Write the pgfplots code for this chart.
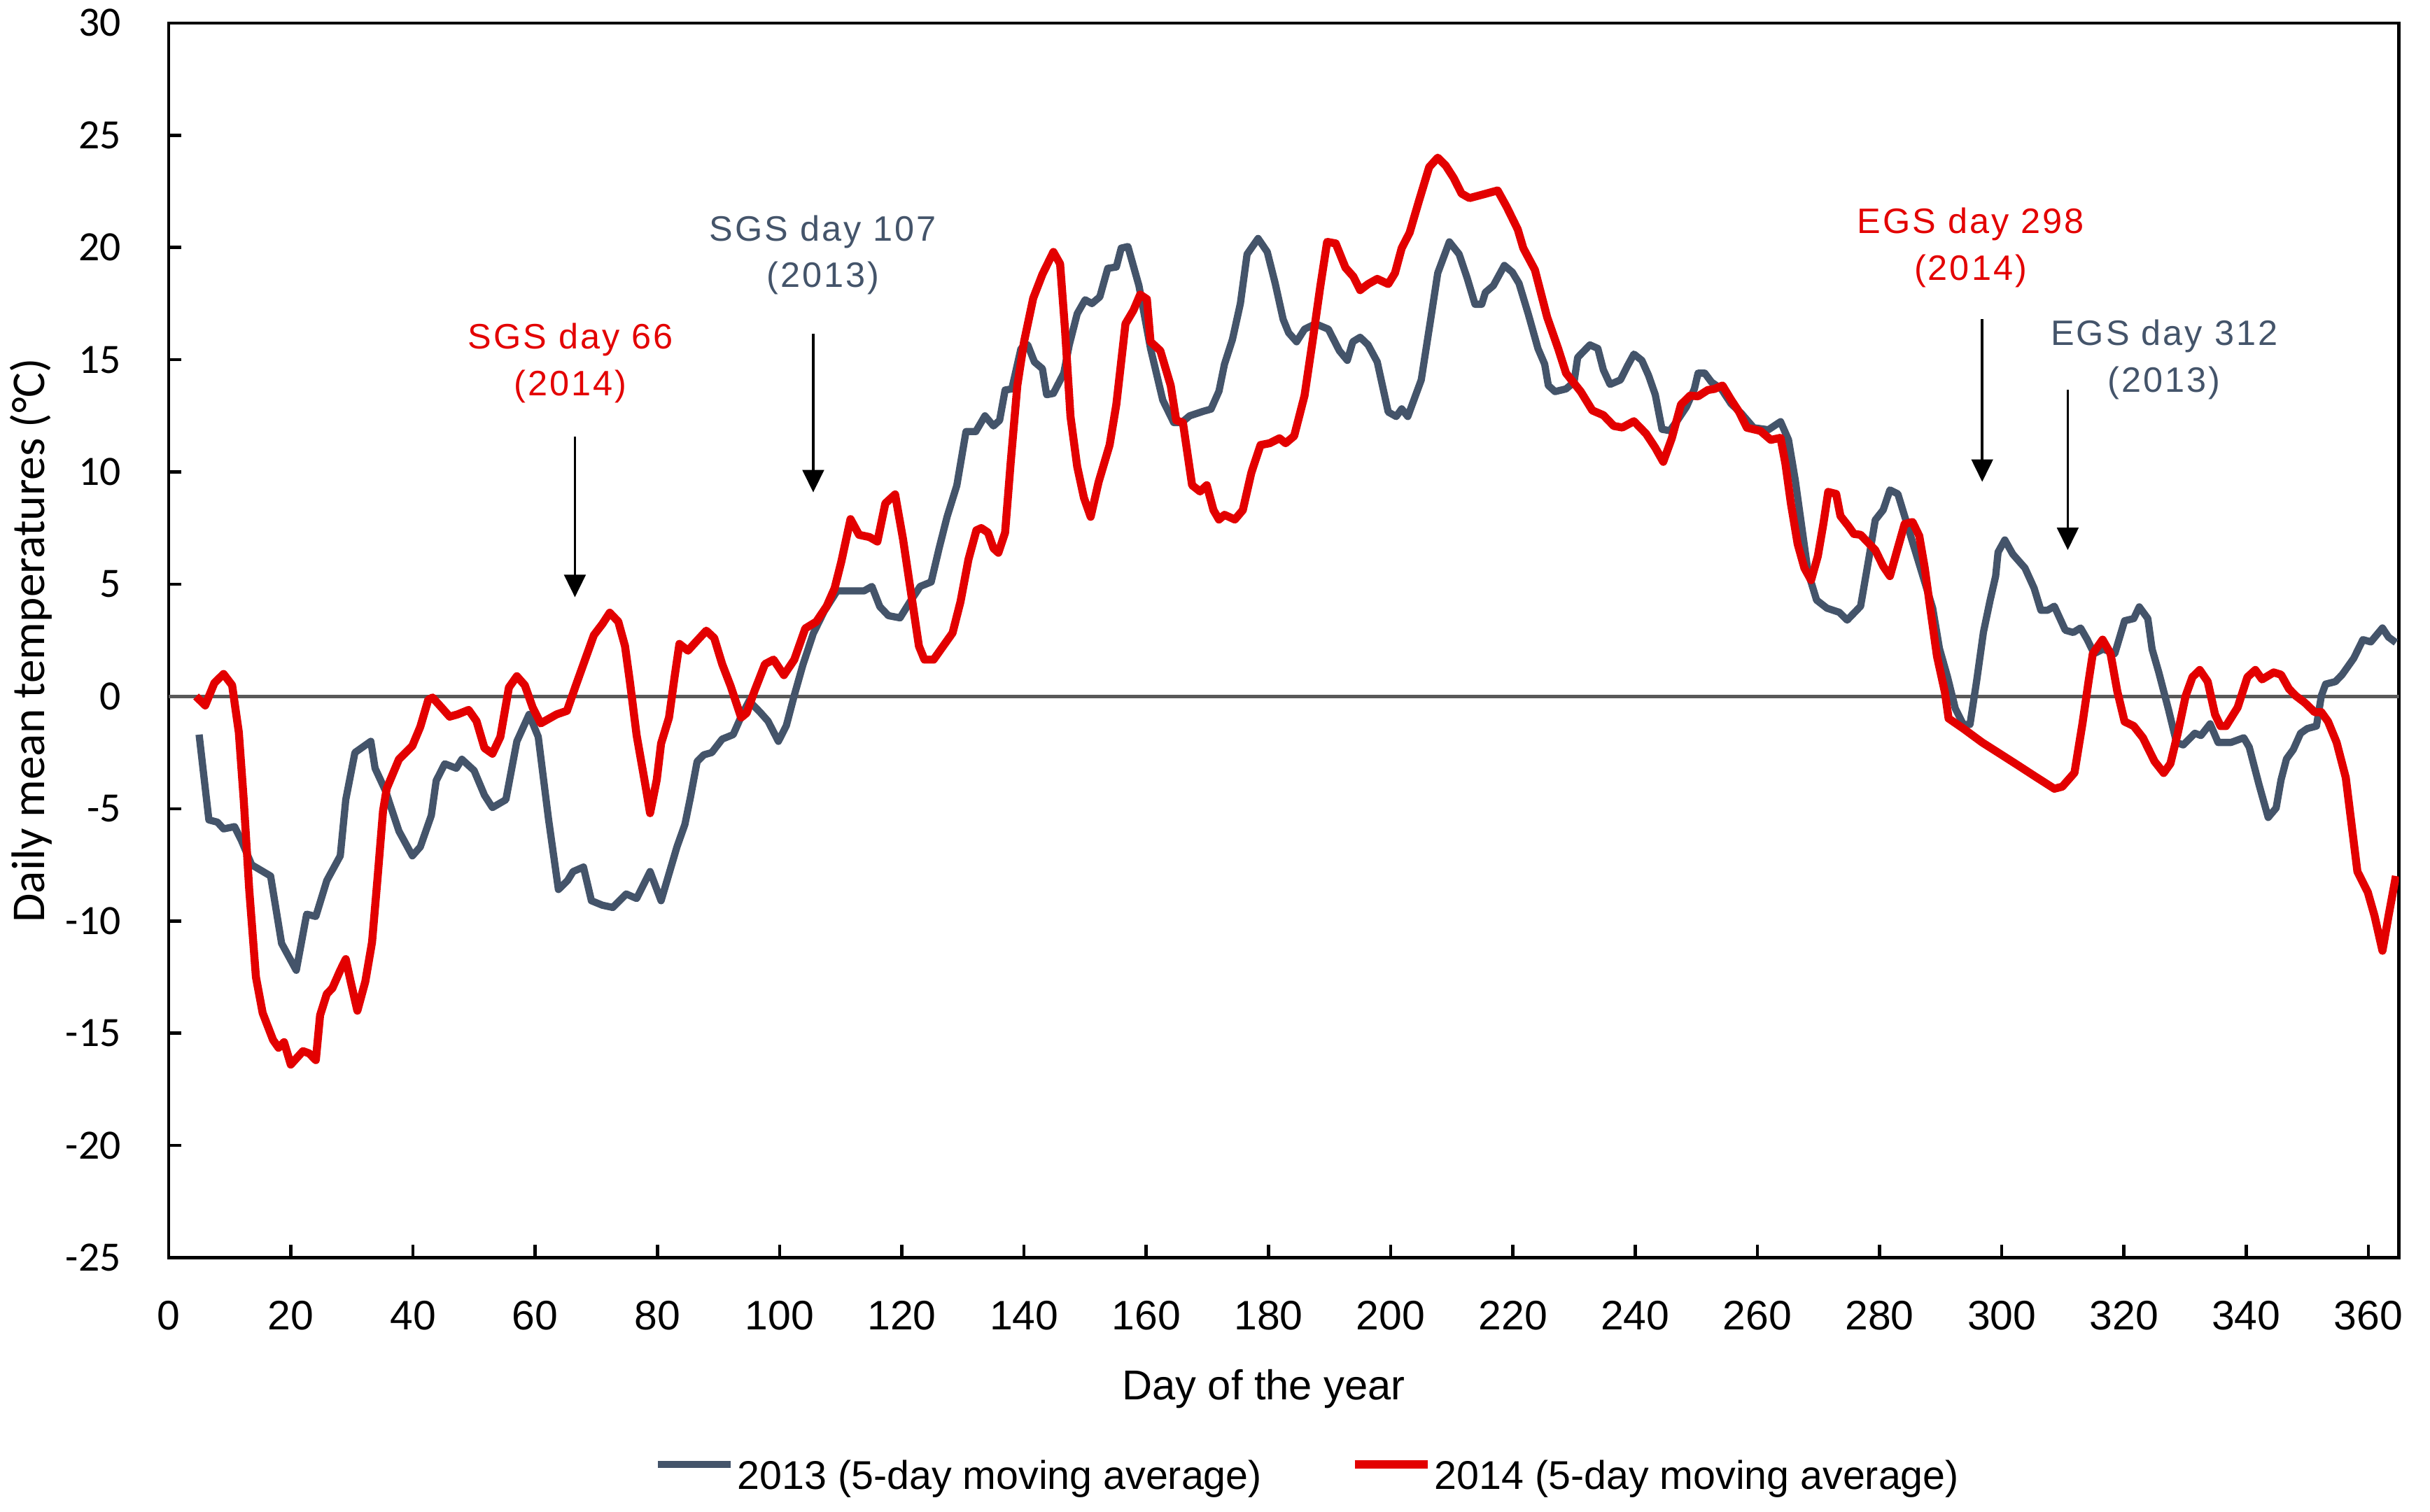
\documentclass[border=0pt]{standalone}
\usepackage{fontspec}
\setmainfont{Liberation Sans}
\newfontfamily\calib{Carlito}
\usepackage{pgfplots}
\pgfplotsset{compat=1.18}
\usetikzlibrary{arrows.meta}
\definecolor{slate}{HTML}{44546A}
\definecolor{tred}{HTML}{E30000}
\definecolor{zerogray}{HTML}{595959}
\newcommand{\annfont}{\addfontfeatures{LetterSpace=6}\fontsize{6.6}{8.7}\selectfont}

\begin{document}
\begin{tikzpicture}
\begin{axis}[
  name=ax,
  scale only axis,
  width=416.8pt, height=230.8pt,
  xmin=0, xmax=365, ymin=-25, ymax=30,
  xtick={0,20,...,360},
  ytick={-25,-20,...,30},
  xtick pos=bottom, ytick pos=left,
  tick align=inside,
  major tick length=2.4pt,
  axis line style={line width=0.6pt},
  tick style={black, line width=0.6pt},
  /pgf/number format/assume math mode=true,
  xticklabel style={font=\fontsize{7.7}{9}\selectfont, yshift=-4.6pt},
  yticklabel style={font=\calib\fontsize{7.8}{9}\selectfont, xshift=-5.4pt},
  xlabel={Day of the year},
  xlabel style={font=\fontsize{7.8}{9}\selectfont, at={(axis description cs:0.491,0)}, anchor=base, yshift=-26.6pt},
  ylabel={Daily mean temperatures (°C)},
  ylabel style={font=\calib\fontsize{8.8}{10}\selectfont, at={([xshift=-25.7pt]axis description cs:0,0.5)}, anchor=center},
  legend columns=2,
  legend style={draw=none, fill=none, at={(axis description cs:0.511,0)}, anchor=north, yshift=-37pt,
    font=\fontsize{7.5}{9}\selectfont, inner sep=0pt, nodes={inner sep=0.6pt},
    /tikz/every even column/.append style={column sep=16pt}},
  legend image code/.code={\draw[#1] (0pt,2.6pt) -- (13.6pt,2.6pt);},
]
% zero line
\addplot[zerogray, line width=0.75pt, forget plot] coordinates {(0,0) (365,0)};

% 2013
\addplot[slate, line width=1.35pt, line join=round] coordinates {
(5,-1.7)(6.6,-5.5)(8,-5.6)(9,-5.9)(10.8,-5.8)(11.9,-6.4)(13.6,-7.5)(16.7,-8.0)(18.5,-11.0)(20.9,-12.2)
(22.6,-9.7)(24.1,-9.8)(25.9,-8.2)(28.1,-7.1)(29,-4.6)(30.5,-2.5)(33.1,-2.0)(33.8,-3.2)(35.5,-4.2)(37.7,-6.0)
(39.9,-7.1)(41.2,-6.7)(43,-5.3)(43.8,-3.75)(45.2,-3.0)(47.1,-3.2)(48,-2.8)(50,-3.3)(51.7,-4.4)(53,-4.95)
(55.2,-4.6)(57,-2.0)(59,-0.8)(60.5,-1.8)(62.2,-5.5)(63.8,-8.6)(65.3,-8.2)(66.2,-7.8)(67.9,-7.6)(69.2,-9.1)
(71,-9.3)(72.7,-9.4)(74.9,-8.8)(76.6,-9.0)(78.8,-7.8)(80.6,-9.1)(81.9,-7.9)(83.2,-6.7)(84.5,-5.7)(85.4,-4.5)
(86.5,-2.9)(87.6,-2.6)(88.9,-2.5)(90.6,-1.9)(92.4,-1.7)(93.7,-0.9)(95,-0.2)(96.8,-0.7)(98.1,-1.1)(99.8,-2.0)
(101.1,-1.3)(102.4,0.05)(103.8,1.4)(105.5,2.8)(107.3,3.8)(109.4,4.7)(111.6,4.7)(113.8,4.7)(115.1,4.9)(116.4,4.0)
(117.8,3.6)(119.7,3.5)(121.3,4.2)(123,4.9)(124.8,5.1)(126.1,6.6)(127.4,8.0)(129,9.4)(130.5,11.8)(132.1,11.8)
(133.6,12.5)(135,12.05)(136,12.3)(136.9,13.65)(138,13.7)(139.5,15.5)(140.6,15.66)(141.7,14.9)(143,14.6)(143.7,13.44)
(144.8,13.5)(146.5,14.4)(147.4,15.66)(148.7,17.05)(150,17.67)(151.1,17.5)(152.4,17.8)(153.7,19.07)(155.1,19.13)(155.9,19.97)
(157,20.04)(158.8,18.3)(160.7,15.5)(162.7,13.2)(164.5,12.2)(165.8,12.2)(167.1,12.5)(169.3,12.7)(170.6,12.8)(171.9,13.6)
(172.8,14.8)(174.1,15.9)(175.4,17.5)(176.5,19.7)(178.3,20.4)(179.8,19.8)(181.1,18.4)(182.4,16.8)(183.3,16.2)(184.6,15.8)
(185.9,16.36)(187.7,16.6)(189.8,16.36)(191.6,15.4)(192.9,14.97)(193.8,15.8)(195,16.0)(196.3,15.66)(197.8,14.9)(199.6,12.67)
(200.9,12.47)(201.8,12.81)(202.8,12.47)(205,14.1)(206.6,16.9)(207.7,18.86)(209.6,20.25)(211.2,19.7)(212.5,18.65)(213.8,17.47)
(214.9,17.47)(215.5,18.0)(216.8,18.3)(218.6,19.2)(219.9,18.9)(221,18.4)(222.5,17.05)(224.1,15.5)(225.2,14.8)(225.8,13.85)
(226.9,13.58)(228.7,13.7)(230,14.0)(230.6,15.1)(232.6,15.66)(233.9,15.5)(234.8,14.55)(235.9,13.9)(237.6,14.1)(238.7,14.7)
(239.8,15.25)(241.1,14.97)(242.2,14.3)(243.3,13.44)(244.4,11.9)(245.7,11.84)(247,12.33)(248.4,12.9)(249.7,13.7)(250.3,14.4)
(251.4,14.4)(252.5,14.0)(254.1,13.7)(255.7,13.04)(257.4,12.6)(259.4,11.97)(261.8,11.88)(263.8,12.24)(265.1,11.43)(266.2,9.65)
(267.3,7.5)(268.3,5.54)(269.7,4.29)(271.4,3.93)(273.4,3.75)(274.7,3.4)(276.9,4.02)(278.2,6.07)(279.3,7.86)(280.6,8.31)
(281.7,9.2)(283,9.02)(284.5,7.68)(286.1,6.25)(287.4,5.09)(288.7,3.93)(289.8,2.14)(291.1,0.89)(292.4,-0.54)(293.7,-1.25)
(294.8,-1.25)(295.9,0.71)(297,2.86)(298.1,4.29)(299,5.36)(299.4,6.43)(300.5,6.97)(301.8,6.34)(303.8,5.72)(305.3,4.82)
(306.4,3.84)(307.5,3.84)(308.6,4.02)(310.4,2.95)(311.7,2.85)(312.9,3.05)(314,2.53)(315.1,1.91)(316.6,2.11)(318.5,1.91)
(320.1,3.37)(321.6,3.47)(322.5,3.99)(323.9,3.47)(324.6,2.11)(325.7,1.07)(327.3,-0.6)(328.6,-2.05)(329.7,-2.16)(331.6,-1.64)
(332.6,-1.74)(334.1,-1.22)(335.4,-2.05)(337.5,-2.05)(339.6,-1.84)(340.5,-2.26)(342.1,-3.93)(343.6,-5.39)(344.9,-4.97)(345.7,-3.72)
(346.6,-2.78)(347.7,-2.37)(348.9,-1.64)(350,-1.43)(351.5,-1.32)(352.3,0.03)(353,0.55)(354.6,0.66)(355.7,0.97)(357.6,1.70)
(359.1,2.53)(360.4,2.43)(362.3,3.05)(363.3,2.64)(364.5,2.4)
};
\addlegendentry{2013 (5-day moving average)}

% 2014
\addplot[tred, line width=1.5pt, line join=round] coordinates {
(4.5,0.0)(6,-0.4)(7.5,0.6)(9,1.0)(10.4,0.5)(11.5,-1.6)(12.3,-4.6)(13.2,-8.6)(14.3,-12.5)(15.4,-14.1)
(17.1,-15.3)(18,-15.65)(18.9,-15.4)(20,-16.4)(22,-15.8)(23,-15.9)(24.1,-16.2)(24.8,-14.2)(25.9,-13.25)(26.8,-13.0)
(28.1,-12.2)(29,-11.7)(29.8,-12.7)(30.9,-14.0)(32.2,-12.7)(33.3,-10.95)(34.2,-8.1)(35.1,-5.1)(35.7,-4.1)(37.7,-2.8)
(39.9,-2.2)(41.2,-1.35)(42.5,-0.15)(43.2,-0.05)(44.7,-0.5)(46,-0.9)(47.3,-0.8)(49.1,-0.6)(50.4,-1.1)(51.7,-2.3)
(53,-2.55)(54.3,-1.8)(55.7,0.4)(57,0.9)(58.3,0.5)(59.6,-0.5)(60.9,-1.2)(62.2,-1.0)(63.5,-0.8)(65.2,-0.64)
(66.6,0.45)(67.9,1.44)(69.6,2.73)(71,3.23)(72.2,3.73)(73.6,3.33)(74.7,2.24)(75.5,0.65)(76.6,-1.73)(78,-3.9)
(78.8,-5.2)(79.9,-3.7)(80.6,-2.1)(81.9,-0.94)(82.8,0.85)(83.6,2.34)(85,2.04)(86.3,2.43)(88,2.93)(89.3,2.6)
(90.6,1.44)(92,0.45)(93.7,-0.94)(94.6,-0.74)(95.9,0.25)(97.6,1.44)(99,1.64)(100.7,0.95)(102.4,1.64)(104.2,3.03)
(106,3.33)(107.7,4.02)(109,4.82)(110.1,6.01)(111.6,7.9)(113,7.2)(114.7,7.1)(116,6.9)(117.3,8.6)(118.9,9.0)
(120.2,7.0)(121.5,4.62)(122.8,2.24)(123.7,1.64)(125.2,1.64)(126.5,2.14)(128.3,2.83)(129.6,4.22)(130.9,6.1)(132.2,7.4)
(133,7.5)(134.1,7.3)(135,6.6)(135.8,6.4)(136.9,7.3)(137.8,10.38)(138.9,13.85)(140,15.8)(141.5,17.74)(143,18.8)
(144.8,19.8)(145.9,19.27)(146.7,16.36)(147.6,12.47)(148.7,10.24)(149.8,8.85)(150.9,8.0)(152.2,9.55)(154,11.2)(155.1,13.0)
(156.6,16.6)(157.9,17.2)(159,17.9)(160.1,17.7)(160.7,15.8)(162.3,15.4)(164,13.85)(164.9,12.3)(166,12.2)(167.5,9.41)
(168.8,9.13)(169.9,9.41)(171,8.3)(171.9,7.88)(172.8,8.09)(174.5,7.88)(175.8,8.3)(177.2,9.97)(178.7,11.2)(180.2,11.28)
(181.8,11.5)(182.8,11.28)(184.2,11.6)(185.9,13.4)(187.2,15.8)(188.5,18.3)(189.6,20.25)(191,20.18)(192.6,19.1)(193.9,18.7)
(195,18.1)(196.3,18.37)(197.8,18.6)(199.6,18.37)(200.7,18.86)(201.8,19.97)(203.1,20.66)(204.6,22.05)(206.3,23.58)(207.7,24.0)
(209,23.65)(210.3,23.1)(211.6,22.4)(212.9,22.2)(215.1,22.36)(217.5,22.54)(219,21.8)(220.8,20.8)(221.7,19.97)(223.6,19.0)
(225.6,16.9)(227.4,15.5)(228.7,14.4)(231.1,13.58)(233,12.74)(234.8,12.53)(236.5,12.05)(237.9,11.98)(239.8,12.26)(241.8,11.7)
(243.3,11.08)(244.6,10.45)(246,11.5)(247.5,13.0)(249,13.4)(250.3,13.37)(251.9,13.65)(253,13.7)(254.3,13.85)(255.7,13.22)
(257,12.68)(258.3,11.97)(260.5,11.83)(262.2,11.43)(263.8,11.52)(264.6,10.36)(265.5,8.58)(266.6,6.79)(267.7,5.72)(268.8,5.18)
(269.9,6.25)(270.8,7.68)(271.6,9.11)(272.9,9.02)(273.6,8.04)(274.9,7.59)(275.8,7.24)(276.9,7.2)(279.3,6.52)(280.6,5.8)
(281.7,5.36)(282.8,6.43)(284.1,7.68)(285.4,7.77)(286.5,7.15)(287.4,5.72)(288.3,3.93)(289.4,1.79)(290.7,0.18)(291.3,-0.98)
(293.7,-1.43)(296.8,-2.05)(299.4,-2.5)(302.5,-3.04)(305.5,-3.57)(308.6,-4.11)(309.9,-4.02)(311.9,-3.4)(313.2,-1.22)(314.2,0.66)
(314.9,1.91)(316.5,2.53)(317.8,1.91)(318.9,0.24)(320.1,-1.12)(321.6,-1.32)(323.1,-1.84)(325,-2.89)(326.5,-3.41)(327.6,-2.99)
(328.8,-1.64)(330.1,0.03)(331.2,0.86)(332.4,1.18)(333.7,0.66)(334.9,-0.8)(335.8,-1.32)(336.7,-1.32)(338.6,-0.49)(340.2,0.86)
(341.5,1.18)(342.6,0.76)(344.5,1.07)(345.7,0.97)(347,0.34)(348.1,0.03)(349.6,-0.28)(351.2,-0.7)(352.3,-0.7)(353.4,-1.12)
(354.8,-2.05)(356.3,-3.62)(357.2,-5.6)(358.2,-7.8)(359.9,-8.72)(361,-9.77)(362.3,-11.33)(363.3,-9.77)(364.5,-8.0)
};
\addlegendentry{2014 (5-day moving average)}

% annotations
\node[text=tred, align=center, font=\annfont] at (axis cs:65.8,14.85) {SGS day 66\\(2014)};
\node[text=slate, align=center, font=\annfont] at (axis cs:107.1,19.66) {SGS day 107\\(2013)};
\node[text=tred, align=center, font=\annfont] at (axis cs:294.9,20.0) {EGS day 298\\(2014)};
\node[text=slate, align=center, font=\annfont] at (axis cs:326.6,15.0) {EGS day 312\\(2013)};
\draw[-{Triangle[width=4pt,length=4.2pt]}, line width=0.45pt] (axis cs:66.5,11.57) -- (axis cs:66.5,4.42);
\draw[-{Triangle[width=4pt,length=4.2pt]}, line width=0.45pt] (axis cs:105.5,16.17) -- (axis cs:105.5,9.09);
\draw[-{Triangle[width=4pt,length=4.2pt]}, line width=0.45pt] (axis cs:296.8,16.8) -- (axis cs:296.8,9.56);
\draw[-{Triangle[width=4pt,length=4.2pt]}, line width=0.45pt] (axis cs:310.8,13.67) -- (axis cs:310.8,6.52);
\end{axis}
\pgfresetboundingbox
\path ([xshift=-31.5pt,yshift=-47.5pt]ax.south west) rectangle ([xshift=5.8pt,yshift=4.3pt]ax.north east);
\end{tikzpicture}
\end{document}
